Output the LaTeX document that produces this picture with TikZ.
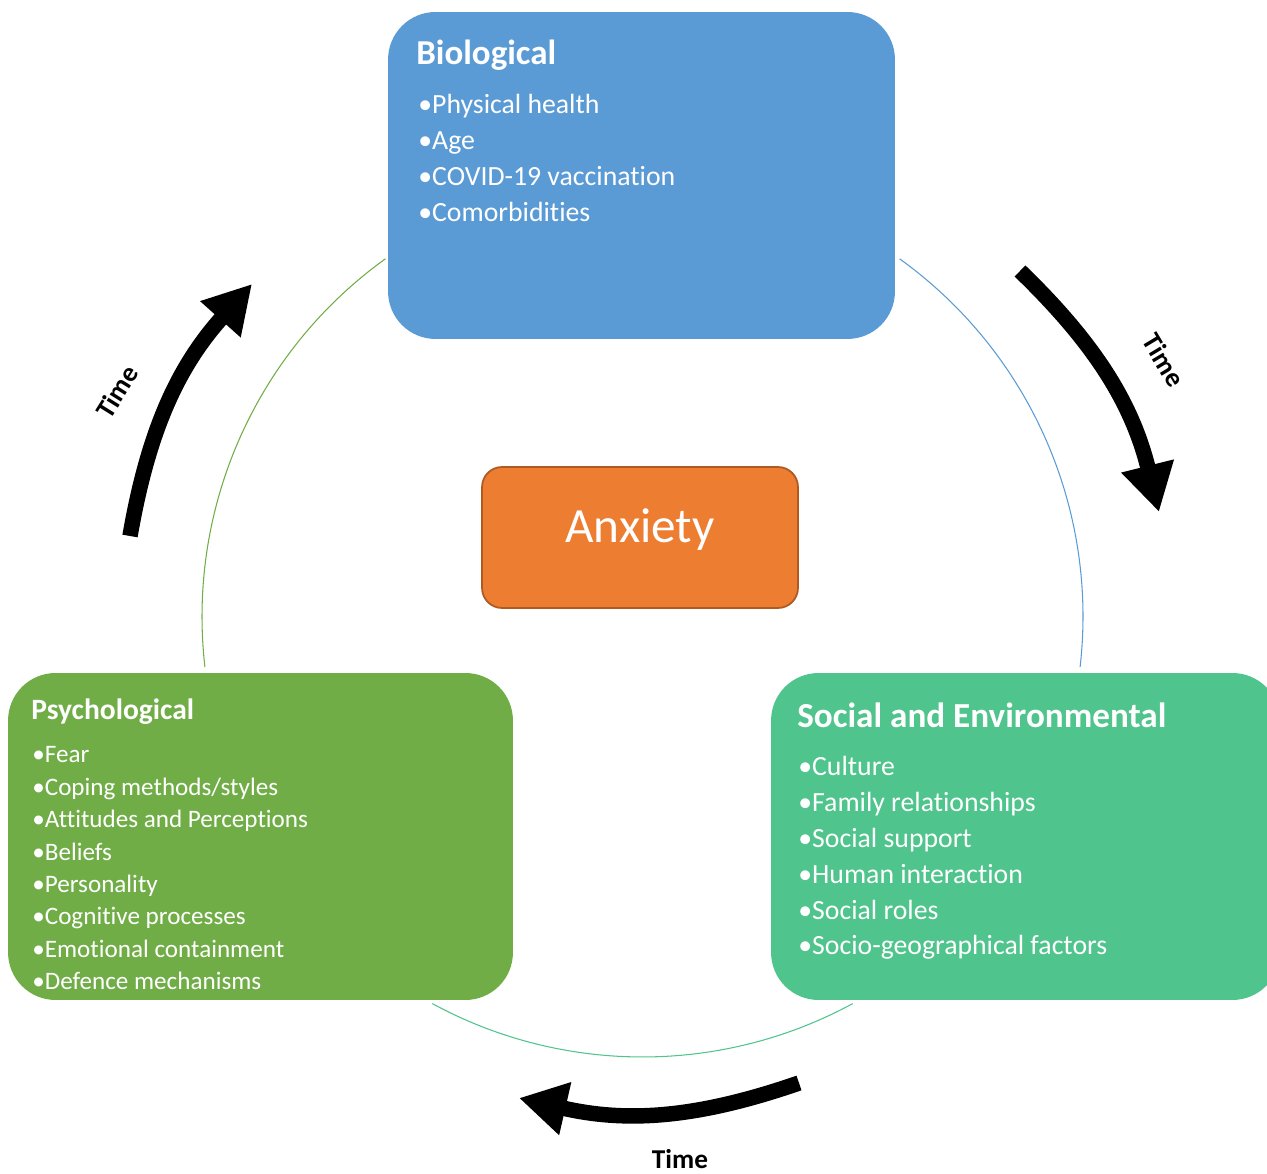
\documentclass[tikz,border=0pt]{standalone}
\usepackage{fontspec}
\setmainfont{Carlito}[Ligatures=NoCommon]
\usetikzlibrary{arrows.meta}

\definecolor{biocol}{HTML}{5B9BD5}
\definecolor{psycol}{HTML}{70AD47}
\definecolor{soccol}{HTML}{4FC48C}
\definecolor{anxcol}{HTML}{ED7D31}
\definecolor{anxline}{HTML}{AE5A21}

\tikzset{
	box/.style={rectangle, rounded corners=0.95cm, inner sep=0pt},
	heading/.style={anchor=base west, inner sep=0pt, text=white, font=\bfseries},
	item/.style={anchor=base west, inner sep=0pt, text=white},
	timearrow/.style={line width=8.8pt, -{Triangle[length=27pt,width=29pt]}},
	timelabel/.style={inner sep=0pt, font=\fontsize{15.5}{18}\selectfont\bfseries},
}

\begin{document}
\begin{tikzpicture}[x=0.02cm, y=0.02cm]

\useasboundingbox (0,0) rectangle (1267,1173);
\clip (0,0) rectangle (1267,1173);

% the ring behind the boxes
	\coordinate (ring) at (642.5,556.5);
	\draw[psycol, line width=0.6pt] ([shift={(125.7:440.5)}]ring) arc[start angle=125.7, end angle=186.6, radius=440.5];
	\draw[biocol, line width=0.6pt] ([shift={(54.3:440.5)}]ring) arc[start angle=54.3, end angle=-6.6, radius=440.5];
	\draw[soccol, line width=0.6pt] ([shift={(241.5:440.5)}]ring) arc[start angle=241.5, end angle=298.5, radius=440.5];

% boxes
	\node[box, fill=biocol, minimum width=10.14cm, minimum height=6.54cm] (bio) at (641.5,997.5) {};
	\node[box, fill=psycol, minimum width=10.1cm, minimum height=6.54cm] (psych) at (260.5,336.5) {};
	\node[box, fill=soccol, minimum width=10.18cm, minimum height=6.54cm] (social) at (1025.5,336.5) {};
	\node[box, fill=anxcol, draw=anxline, line width=1pt, rounded corners=0.4cm, minimum width=6.32cm, minimum height=2.82cm] (anxiety) at (640,635.5) {};
	\node[text=white, font=\fontsize{28}{32}\selectfont] (anxietytext) at (640,643) {Anxiety};

% Biological
	\node[heading, font=\fontsize{19.9}{24}\selectfont\bfseries] (biotitle) at (416,1108) {Biological};
\foreach \txt [count=\i] in {Physical health, Age, COVID-19 vaccination, Comorbidities}
	\node[item, font=\fontsize{15.8}{19}\selectfont] (bioitem\i) at (418,{1059-36*(\i-1)}) {•\txt};

% Psychological
	\node[heading, font=\fontsize{16.8}{20}\selectfont\bfseries] (psychtitle) at (31,453) {Psychological};
\foreach \txt [count=\i] in {Fear, Coping methods/styles, Attitudes and Perceptions, Beliefs, Personality, Cognitive processes, Emotional containment, Defence mechanisms}
	\node[item, font=\fontsize{14.3}{17}\selectfont] (psychitem\i) at (32,{410-32.4*(\i-1)}) {•\txt};

% Social and Environmental
	\node[heading, font=\fontsize{20}{24}\selectfont\bfseries] (socialtitle) at (797,445) {Social and Environmental};
\foreach \txt [count=\i] in {Culture, Family relationships, Social support, Human interaction, Social roles, Socio-geographical factors}
	\node[item, font=\fontsize{15.8}{19}\selectfont] (socialitem\i) at (798,{397-35.8*(\i-1)}) {•\txt};

% time arrows
	\coordinate (lefttail) at (130,637);
	\coordinate (lefttip) at (252,889);
	\coordinate (righttail) at (1020,902);
	\coordinate (righttip) at (1159,661);
	\coordinate (bottomtail) at (799,90);
	\coordinate (bottomtip) at (519,75);
	\draw[timearrow] (lefttail) to[bend left=16] (lefttip);
	\draw[timearrow] (righttail) to[bend left=16] (righttip);
	\draw[timearrow] (bottomtail) to[bend left=16] (bottomtip);
	\node[timelabel, rotate=58] (lefttime) at (117,781) {Time};
	\node[timelabel, rotate=-59] (righttime) at (1164,813) {Time};
	\node[timelabel, anchor=base] (bottomtime) at (680,5) {Time};

\end{tikzpicture}
\end{document}
